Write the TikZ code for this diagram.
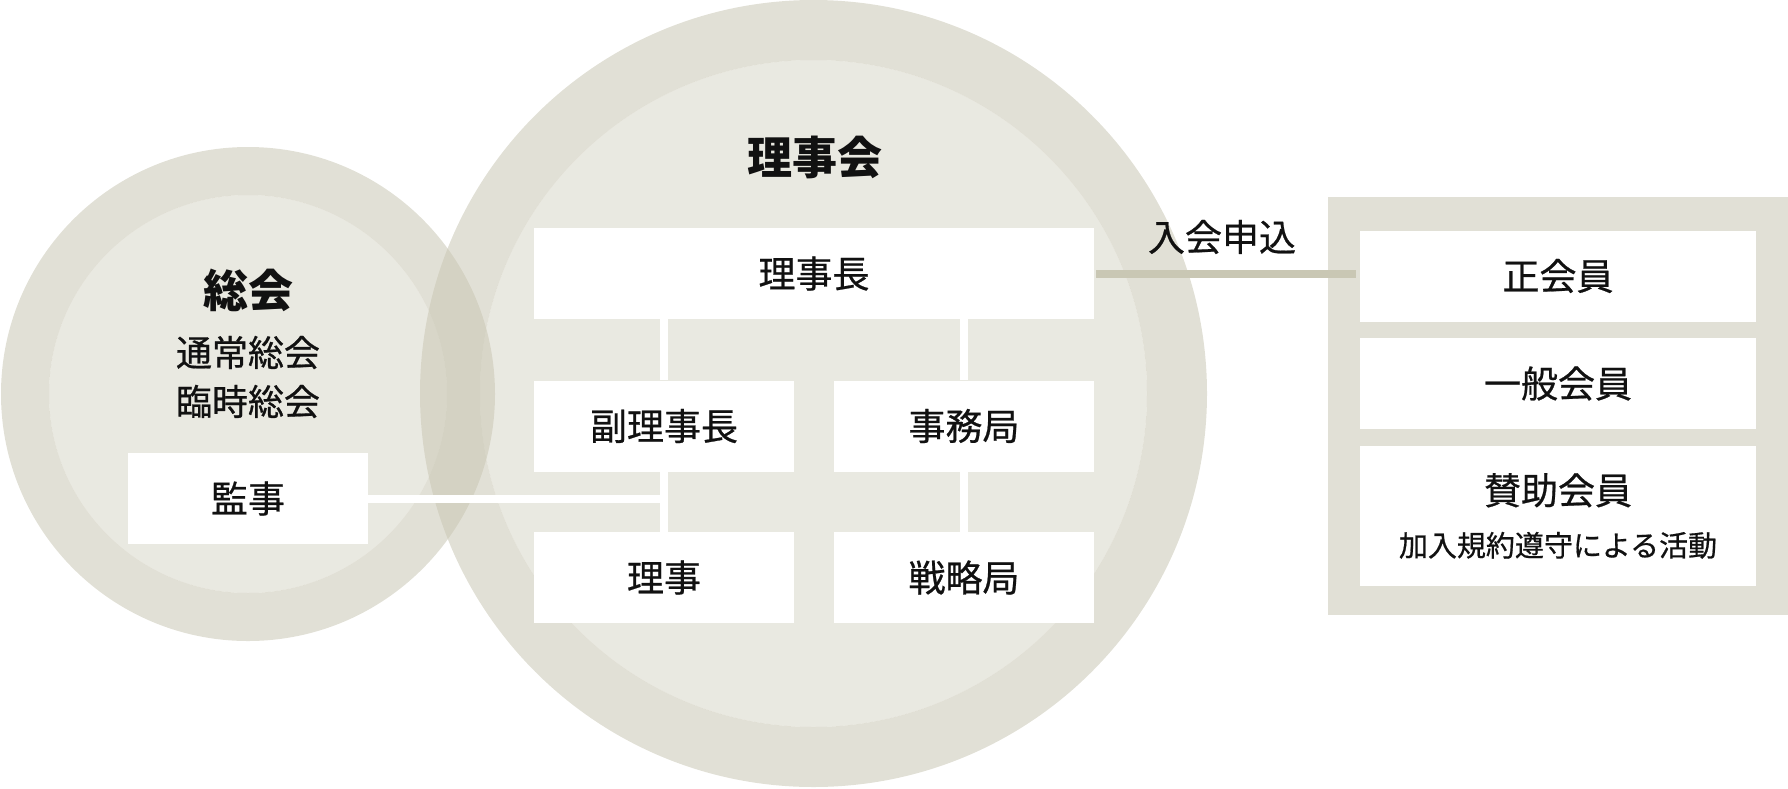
\documentclass[tikz,border=0pt]{standalone}
\usepackage{fontspec}
\usepackage{xcolor}
\usepackage{tikz}
\usetikzlibrary{calc,positioning}
\setmainfont{Noto Sans CJK JP}
\newfontfamily\midfont[FakeBold=0.6]{Noto Sans CJK JP}
\definecolor{ink}{HTML}{111111}
\definecolor{sand}{HTML}{C9C7B4}
\definecolor{paper}{HTML}{FFFFFF}
\tikzset{
  ring/.style={fill=sand, fill opacity=0.55, even odd rule},
  core/.style={fill=sand, fill opacity=0.4},
  panel/.style={fill=sand, fill opacity=0.55},
  box/.style={fill=paper, text=ink, inner sep=0pt, minimum width=260pt, minimum height=91pt, font=\midfont\fontsize{37}{44}\selectfont},
  wide/.style={box, minimum width=560pt},
  member/.style={box, minimum width=396pt},
  link/.style={draw=paper, line width=8pt},
  entry/.style={draw=sand, line width=8pt},
  title/.style={text=ink, font=\bfseries\fontsize{45}{50}\selectfont},
  lab/.style={text=ink, font=\midfont\fontsize{36}{49}\selectfont, align=center},
}
\begin{document}
\begin{tikzpicture}[x=1pt,y=-1pt]
  \useasboundingbox (0,0) rectangle (1788,788);
  \fill[ring] (248,394) circle (247) (248,394) circle (199);
  \fill[core] (248,394) circle (199);
  \fill[ring] (813.5,393.5) circle (393.5) (813.5,393.5) circle (333.5);
  \fill[core] (813.5,393.5) circle (333.5);
  \fill[panel] (1328,197) rectangle (1788,615);
  \node[title] (board) at (815,157) {理事会};
  \node[title] (general) at (248,290) {総会};
  \node[lab] (meet) at (248,377) {通常総会\\臨時総会};
  \node[lab, font=\midfont\fontsize{37}{44}\selectfont] (apply) at (1222,237) {入会申込};
  \node[wide] (chief) at (814,273.5) {理事長};
  \foreach \name/\x/\y/\txt in {vice/664/426/副理事長, office/964/426/事務局, director/664/577.5/理事, strategy/964/577.5/戦略局}
    \node[box] (\name) at (\x,\y) {\txt};
  \node[box, minimum width=240pt] (audit) at (248,498.5) {監事};
  \node[member] (full) at (1558,276) {正会員};
  \node[member] (common) at (1558,383.5) {一般会員};
  \node[member, minimum height=140pt, align=center, font=\midfont\fontsize{37}{52}\selectfont] (support) at (1558,516) {賛助会員\\{\fontsize{29}{52}\selectfont 加入規約遵守による活動}};
  \draw[link] (vice.north) -- (vice.north |- chief.south);
  \draw[link] (vice.south) -- (director.north);
  \draw[link] (office.north) -- (office.north |- chief.south);
  \draw[link] (office.south) -- (strategy.north);
  \draw[link] (audit.east) -- (audit.east -| vice.south);
  \draw[entry, shorten >=4pt, shorten <=2pt] (chief.east) -- (chief.east -| full.west);
\end{tikzpicture}
\end{document}
